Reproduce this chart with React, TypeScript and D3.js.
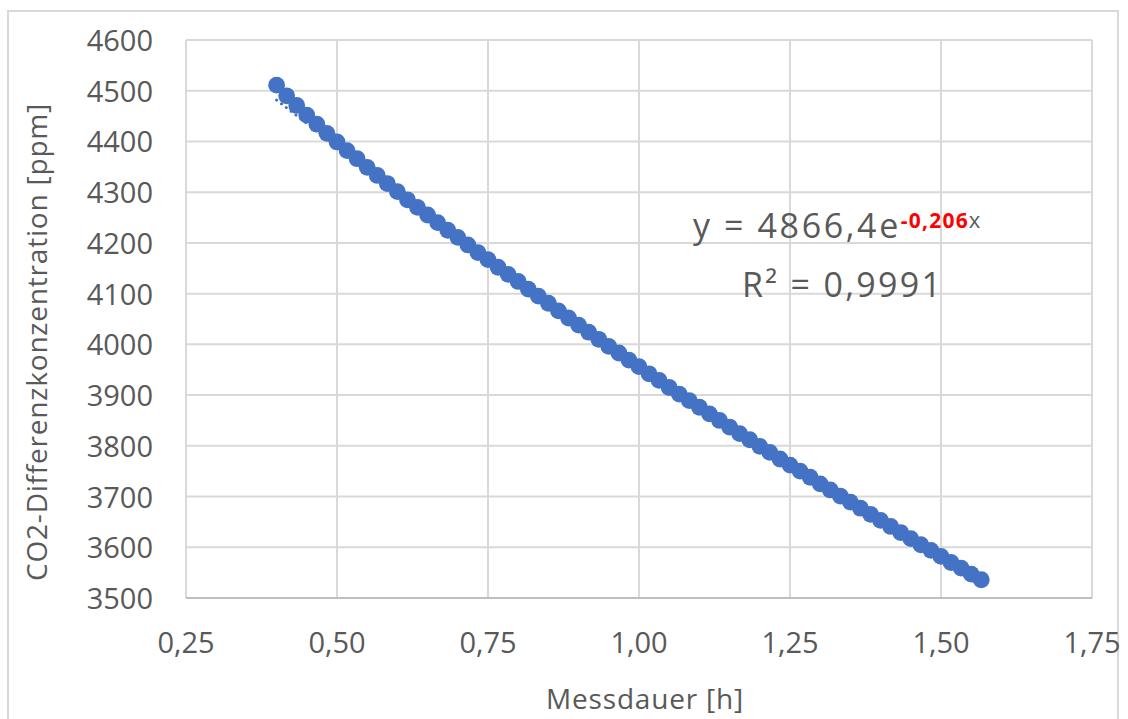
import React from "react";
import * as d3 from "d3";

// Measurement time in minutes (one reading per minute)
const minutes = [
  24, 25, 26, 27, 28, 29, 30, 31, 32, 33, 34, 35, 36, 37, 38, 39, 40, 41, 42, 43,
  44, 45, 46, 47, 48, 49, 50, 51, 52, 53, 54, 55, 56, 57, 58, 59, 60, 61, 62, 63,
  64, 65, 66, 67, 68, 69, 70, 71, 72, 73, 74, 75, 76, 77, 78, 79, 80, 81, 82, 83,
  84, 85, 86, 87, 88, 89, 90, 91, 92, 93, 94,
];

// CO2 difference concentration [ppm]
const co2 = [
  4511, 4490, 4471, 4452, 4434, 4416, 4399, 4382, 4366, 4349, 4333, 4317, 4301, 4285, 4270, 4255,
  4240, 4225, 4211, 4196, 4181, 4167, 4152, 4138, 4124, 4109, 4095, 4081, 4066, 4052, 4038, 4024,
  4010, 3996, 3983, 3969, 3956, 3942, 3929, 3915, 3902, 3889, 3876, 3863, 3850, 3837, 3824, 3812,
  3799, 3787, 3774, 3762, 3750, 3738, 3725, 3713, 3701, 3689, 3677, 3665, 3653, 3641, 3629, 3617,
  3605, 3594, 3582, 3570, 3559, 3547, 3536,
];

// Exponential trend fit: y = a * e^(b x)
const fitA = 4866.4;
const fitB = -0.206;

const xTicks = [0.25, 0.5, 0.75, 1.0, 1.25, 1.5, 1.75];
const yTicks = [3500, 3600, 3700, 3800, 3900, 4000, 4100, 4200, 4300, 4400, 4500, 4600];

const W = 1128;
const H = 719;
const plot = { left: 186, right: 1092, top: 40, bottom: 598 };

const blue = "#4472C4";
const textGray = "#595959";
const gridGray = "#d9d9d9";
const font = "'Open Sans', 'Liberation Sans', sans-serif";
const deNum = (v: number, digits: number) => v.toFixed(digits).replace(".", ",");

export default function App() {
  const x = d3.scaleLinear().domain([0.25, 1.75]).range([plot.left, plot.right]);
  const y = d3.scaleLinear().domain([3500, 4600]).range([plot.bottom, plot.top]);

  const hours = minutes.map((m) => m / 60);
  const points = hours.map((h, i) => ({ h, v: co2[i] }));

  const x0 = hours[0];
  const x1 = hours[hours.length - 1];
  const trendXs = d3.range(0, 101).map((k) => x0 + ((x1 - x0) * k) / 100);
  const trendPath = d3
    .line<number>()
    .x((h) => x(h))
    .y((h) => y(fitA * Math.exp(fitB * h)))(trendXs) as string;

  return (
    <svg
      width={W}
      height={H}
      style={{ position: "absolute", left: 0, top: 0, background: "#fff" }}
      fontFamily={font}
    >
      <rect x={8} y={11} width={1110} height={730} fill="#fff" stroke={gridGray} strokeWidth={2} />

      {/* horizontal gridlines */}
      {yTicks.map((t) => (
        <line
          key={"gy" + t}
          x1={plot.left}
          x2={plot.right}
          y1={y(t)}
          y2={y(t)}
          stroke={gridGray}
          strokeWidth={2}
        />
      ))}
      {/* vertical gridlines */}
      {xTicks.map((t) => (
        <line
          key={"gx" + t}
          x1={x(t)}
          x2={x(t)}
          y1={plot.top}
          y2={plot.bottom}
          stroke={gridGray}
          strokeWidth={2}
        />
      ))}
      <line x1={plot.left} x2={plot.right} y1={y(3500)} y2={y(3500)} stroke="#bfbfbf" strokeWidth={2} />

      {/* y tick labels */}
      {yTicks.map((t) => (
        <text
          key={"ty" + t}
          x={153}
          y={y(t) + 11}
          textAnchor="end"
          fontSize={29}
          fill={textGray}
        >
          {t}
        </text>
      ))}
      {/* x tick labels */}
      {xTicks.map((t) => (
        <text
          key={"tx" + t}
          x={x(t)}
          y={653}
          textAnchor="middle"
          fontSize={29}
          fill={textGray}
        >
          {deNum(t, 2)}
        </text>
      ))}

      {/* data markers */}
      {points.map((p, i) => (
        <circle key={"p" + i} cx={x(p.h)} cy={y(p.v)} r={8.4} fill={blue} />
      ))}

      {/* exponential trendline, dotted */}
      <path
        d={trendPath}
        fill="none"
        stroke={blue}
        strokeWidth={3}
        strokeDasharray="0.1 6"
        strokeLinecap="round"
      />

      {/* trend equation */}
      <text x={693} y={238} fontSize={34} letterSpacing={2.6} fill={textGray}>
        <tspan>y = {deNum(fitA, 1)}e</tspan>
        <tspan dy={-10} fontSize={21} letterSpacing={1.2} fontWeight="bold" fill="#ff0000">
          {deNum(fitB, 3)}
        </tspan>
        <tspan fontSize={22} letterSpacing={0}>x</tspan>
      </text>
      <text x={742} y={297} fontSize={34} letterSpacing={2.3} fill={textGray}>
        R² = 0,9991
      </text>

      {/* axis titles */}
      <text
        transform={`translate(47, 342) rotate(-90)`}
        textAnchor="middle"
        fontSize={28}
        letterSpacing={0.8}
        fill={textGray}
      >
        CO2-Differenzkonzentration [ppm]
      </text>
      <text
        x={(plot.left + plot.right) / 2 + 6}
        y={709}
        textAnchor="middle"
        fontSize={28}
        letterSpacing={0.8}
        fill={textGray}
      >
        Messdauer [h]
      </text>
    </svg>
  );
}
